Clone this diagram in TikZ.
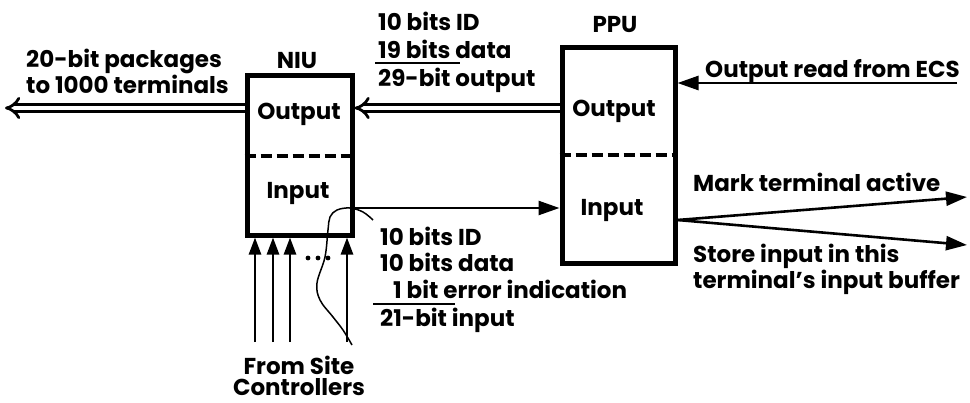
\documentclass[tikz,border=0pt]{standalone}
\usepackage{fontspec}
\setmainfont{Poppins}
\usetikzlibrary{arrows.meta}

\begin{document}
\begin{tikzpicture}[x=1pt, y=-1pt,
    lbl/.style={font=\fontsize{23}{21}\selectfont\bfseries, inner sep=0pt},
    unit/.style={draw, line width=5pt, inner sep=0pt},
    sig/.style={line width=2.6pt, -{Triangle[length=21pt,width=14pt]}},
    site/.style={line width=2.6pt, -{Triangle[length=17pt,width=12pt]}},
    bus/.style={double, double distance=4.5pt, line width=2.8pt, -{Implies[scale=1.3]}},
    sep/.style={line width=4.5pt, dash pattern=on 11pt off 5pt}]
  \useasboundingbox (0,0) rectangle (970,402);
  % boxes
  \node[unit, minimum width=105pt, minimum height=160pt] (niu) at (299.5,155) {};
  \node[unit, minimum width=113pt, minimum height=216pt] (ppu) at (618.5,155) {};
  \draw[sep] (niu.west |- 0,156) -- (niu.east |- 0,156);
  \draw[sep] (ppu.west |- 0,155) -- (ppu.east |- 0,155);
  \node[lbl, anchor=base] (niut) at (297,68) {NIU};
  \node[lbl, anchor=base] (pput) at (615,32) {PPU};
  \node[lbl, anchor=base] (niuo) at (299,119) {Output};
  \node[lbl, anchor=base] (niui) at (298,198) {Input};
  \node[lbl, anchor=base] (ppuo) at (614,116) {Output};
  \node[lbl, anchor=base] (ppui) at (612,215) {Input};
  % output side
  \coordinate (term) at (5,108);
  \draw[bus] (ppu.west |- term) -- (niu.east |- term);
  \draw[bus] (niu.west |- term) -- (term);
  \node[lbl, anchor=base west, align=left] (pk) at (26,93) {20-bit packages\\to 1000 terminals};
  \node[lbl, anchor=base west] (o1) at (378,30) {10 bits ID};
  \node[lbl, anchor=base west] (o2) at (378,58) {19 bits data};
  \node[lbl, anchor=base west] (o3) at (378,86) {29-bit output};
  \draw[line width=2.4pt] (375,63) -- (460,63);
  \coordinate (ecs) at (957,83);
  \draw[sig] (ecs) -- (ppu.east |- ecs);
  \node[lbl, anchor=base west] (ecst) at (705,77) {Output read from ECS};
  % input side
  \foreach \x [count=\i] in {255,273,290,347}{
    \coordinate (s\i) at (\x,342);
    \draw[site] (s\i) -- (s\i |- niu.south);
  }
  \foreach \x in {308,318,328} \fill (\x,258) circle (2.4pt);
  \draw[line width=1.5pt] plot[smooth, tension=0.6] coordinates
    {(352,345) (343,330) (333,317) (320,300) (317,283) (325,257) (328,230) (330,217) (337,210) (350,208) (363,212) (373,220)};
  \node[lbl, anchor=base, align=center] (fs) at (299,395) {From Site\\Controllers};
  \draw[sig] (niu.east |- 0,208) -- (ppu.west |- 0,208);
  \node[lbl, anchor=base west] (i1) at (380,245) {10 bits ID};
  \node[lbl, anchor=base west] (i2) at (380,271) {10 bits data};
  \node[lbl, anchor=base west] (i3) at (393,298) {1 bit error indication};
  \node[lbl, anchor=base west] (i4) at (380,326) {21-bit input};
  \draw[line width=2.4pt] (373,304) -- (455,304);
  \coordinate (mark) at (967,197);
  \coordinate (store) at (967,245);
  \draw[sig] (ppu.east |- 0,220) -- (mark);
  \draw[sig] (ppu.east |- 0,220) -- (store);
  \node[lbl, anchor=base west] (mk) at (693,191) {Mark terminal active};
  \node[lbl, anchor=base west, align=left] (st) at (693,288) {Store input in this\\terminal's input buffer};
\end{tikzpicture}
\end{document}
